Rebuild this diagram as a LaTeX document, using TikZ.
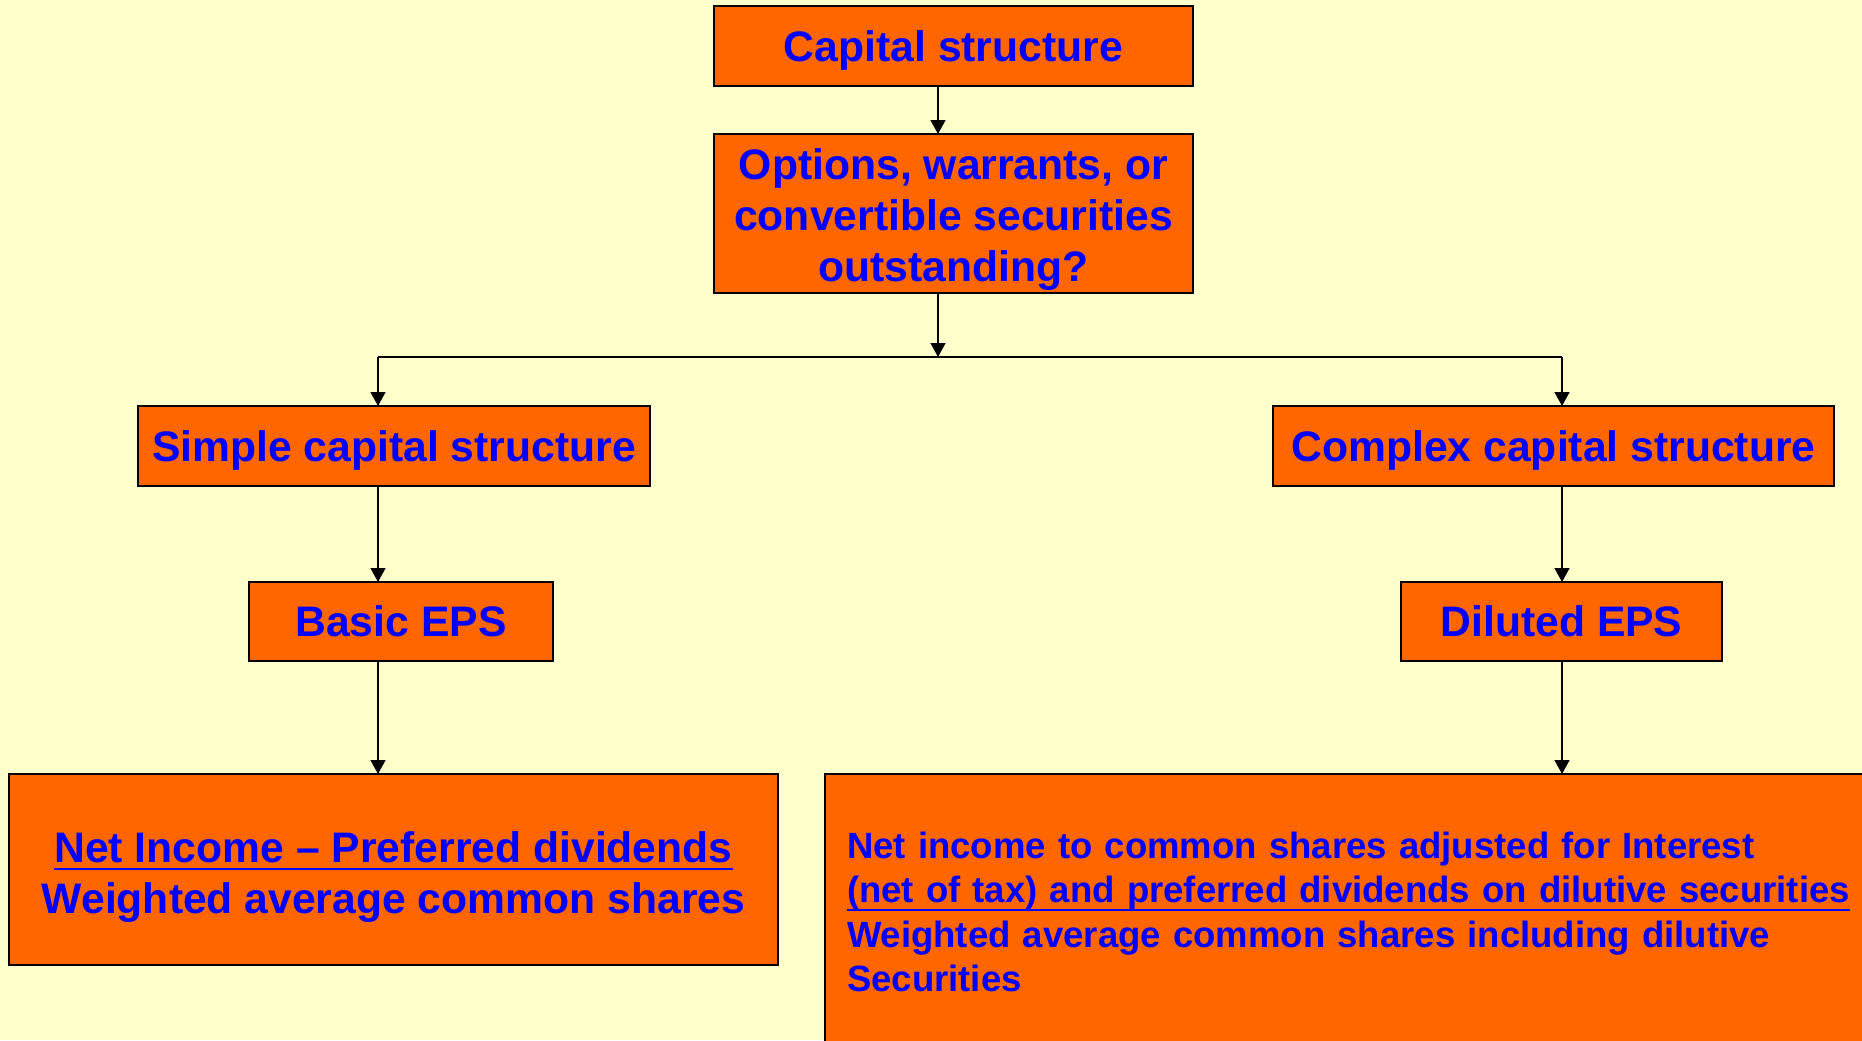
\documentclass[tikz,border=0pt]{standalone}
\usepackage{fontspec}
\setmainfont{Liberation Sans}
\usetikzlibrary{arrows.meta}
\definecolor{paper}{HTML}{FFFFCC}
\definecolor{boxfill}{HTML}{FF6600}
\definecolor{ink}{HTML}{0000FF}
% underline drawn as a rule just below the baseline
\newcommand\ulbar[1]{\leavevmode\setbox0\hbox{#1}\rlap{\rule[-6pt]{\wd0}{1.5pt}}\box0}
\begin{document}
\begin{tikzpicture}[x=0.75pt,y=-0.75pt,
  box/.style={draw=black,line width=1.2pt,fill=boxfill,text=ink,
    font=\bfseries\fontsize{32pt}{38.25pt}\selectfont,
    inner sep=0pt,outer sep=0pt,align=center},
  oneline/.style={text depth=0pt},
  arr/.style={line width=1.1pt,-{Triangle[length=10.5pt,width=11.25pt]}},
  conn/.style={line width=1.1pt}]
\useasboundingbox (0,0) rectangle (1862,1040);
\clip (0,0) rectangle (1862,1040);
\fill[paper] (0,0) rectangle (1862,1040);

% decision chain
\node[box,oneline,minimum width=359.25pt,minimum height=60pt] (cap) at (953.5,46) {Capital structure};
\node[box,minimum width=359.25pt,minimum height=119.25pt] (opt) at (953.5,213.5)
  {\rule{0pt}{32.5pt}Options, warrants, or\\convertible securities\\outstanding?};

% the two branches
\node[box,oneline,minimum width=384pt,minimum height=60pt] (simple) at (394,446) {Simple capital structure};
\node[box,oneline,minimum width=420.75pt,minimum height=60pt] (complex) at (1553.5,446) {Complex capital structure};
\node[box,oneline,minimum width=228pt,minimum height=59.25pt] (basic) at (401,621.5) {Basic EPS};
\node[box,oneline,minimum width=240.75pt,minimum height=59.25pt] (diluted) at (1561.5,621.5) {Diluted EPS};

% EPS formulas
\node[box,minimum width=576.75pt,minimum height=143.25pt] (fracl) at (393.5,869.5)
  {\rule{0pt}{34pt}\ulbar{Net Income -- Preferred dividends}\\Weighted average common shares};
\node[box,anchor=north west,align=left,text width=765.75pt,inner xsep=16.5pt,
  minimum height=207pt,font=\bfseries\fontsize{27.4pt}{33.2pt}\selectfont] (fracr) at (825,774)
  {Net income to common shares adjusted for Interest\\
   \ulbar{(net of tax) and preferred dividends on dilutive securities}\\
   Weighted average common shares including dilutive\\
   Securities};

% connectors
\coordinate (split) at (938,357);
\coordinate (jl) at (378,357);
\coordinate (jr) at (1562,357);
\draw[arr] (cap.south -| split) -- (opt.north -| split);
\draw[arr] (opt.south -| split) -- (split);
\draw[conn] (jl) -- (jr);
\draw[arr] (jl) -- (simple.north -| jl);
\draw[arr] (jr) -- (complex.north -| jr);
\draw[arr] (simple.south -| jl) -- (basic.north -| jl);
\draw[arr] (basic.south -| jl) -- (fracl.north -| jl);
\draw[arr] (complex.south -| jr) -- (diluted.north -| jr);
\draw[arr] (diluted.south -| jr) -- (fracr.north -| jr);
\end{tikzpicture}
\end{document}
